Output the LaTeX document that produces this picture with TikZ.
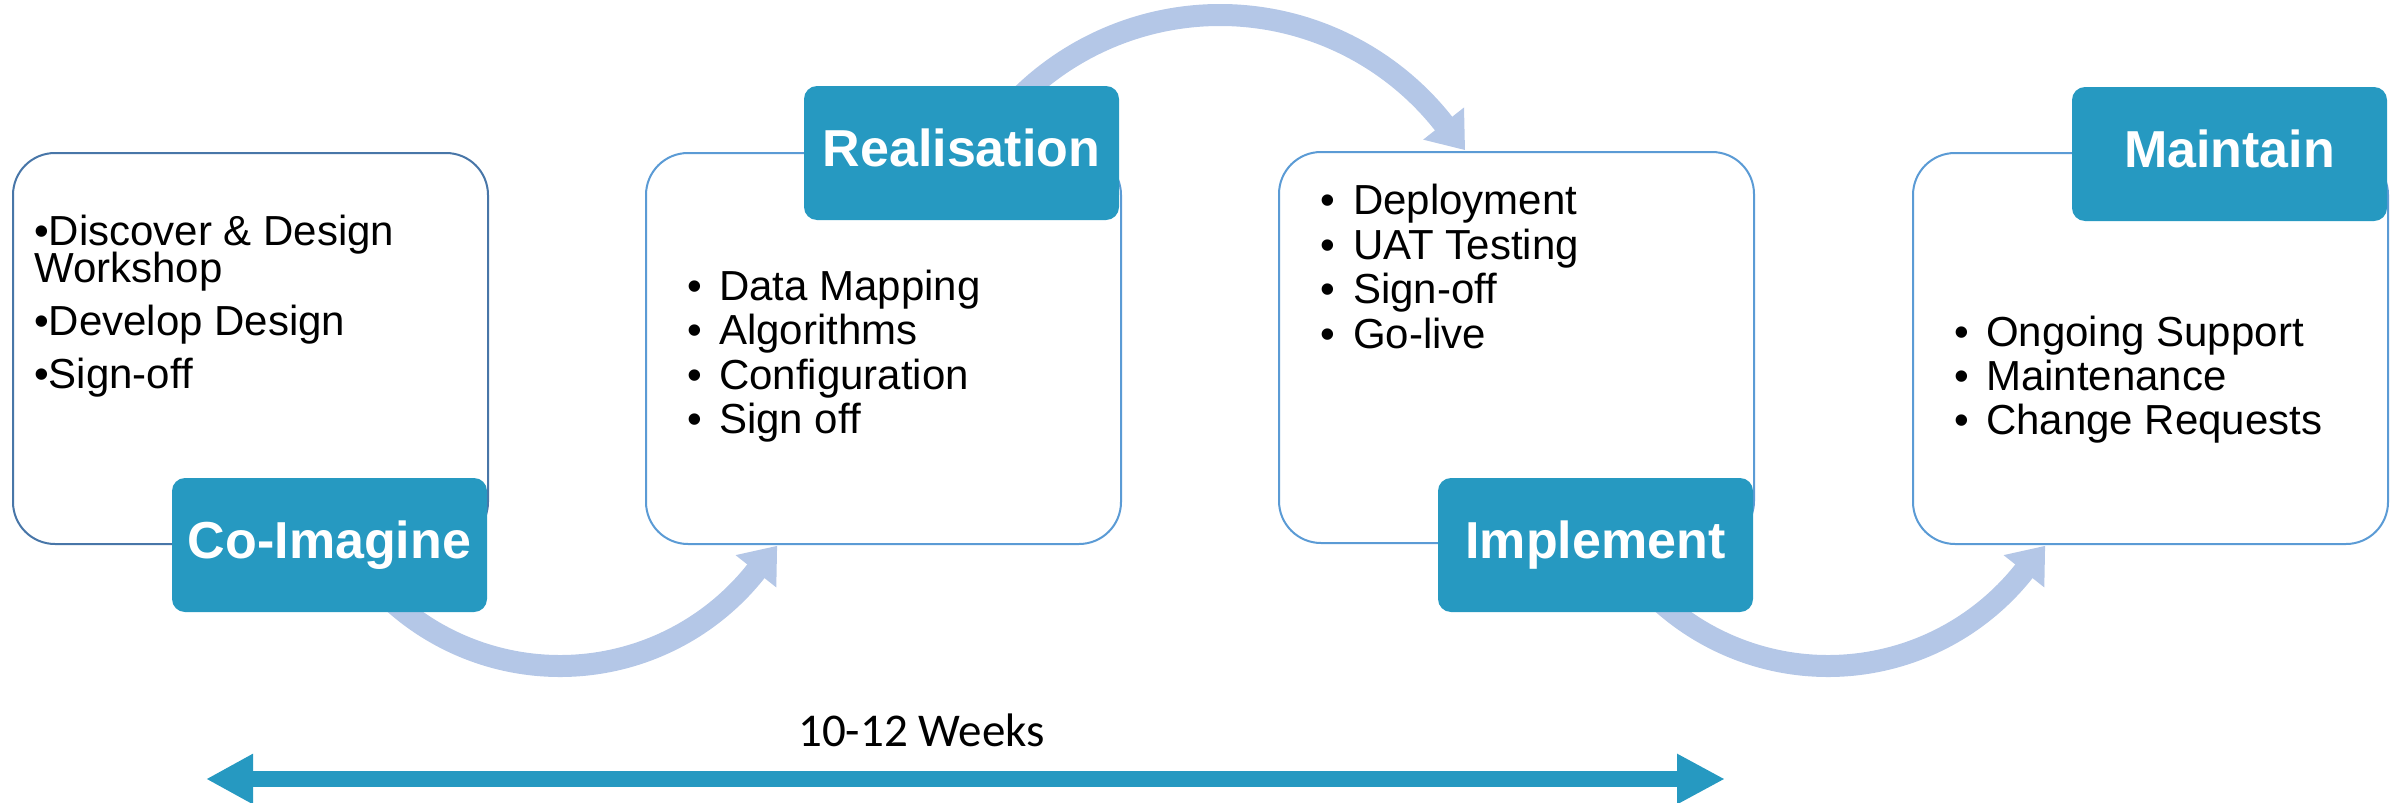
\documentclass[tikz,border=0pt]{standalone}
\usepackage{fontspec}
\setmainfont{Liberation Sans}
\newfontfamily\weeksfont{Carlito}
\usetikzlibrary{arrows.meta,calc}
\definecolor{labelblue}{RGB}{38,153,193}
\definecolor{arcblue}{RGB}{180,199,231}
\definecolor{boxline}{RGB}{91,155,213}
\definecolor{boxlinedark}{RGB}{72,118,168}
\begin{document}
\begin{tikzpicture}[x=1pt,y=1pt,
  panel/.style={draw=boxline, line width=2pt, fill=white, rounded corners=42pt,
    minimum width=475pt, minimum height=391pt, anchor=north west, inner sep=0pt, outer sep=0pt},
  tag/.style={fill=labelblue, rounded corners=13pt, minimum width=315pt, minimum height=134pt,
    anchor=north east, inner sep=0pt, outer sep=0pt, text=white,
    font=\fontsize{52}{52}\selectfont\bfseries, text height=37pt, text depth=11pt},
  item/.style={anchor=base west, inner sep=0pt, font=\fontsize{42}{44}\selectfont},
  band/.style={draw=arcblue, line width=22pt},
  head/.style={fill=arcblue},
  span/.style={draw=labelblue, line width=16pt,
    {Triangle[length=47pt,width=47pt]}-{Triangle[length=48pt,width=47pt]}},
  weeks/.style={anchor=base, inner sep=0pt, font=\weeksfont\fontsize{47}{47}\selectfont}
]
\useasboundingbox (0,0) rectangle (2402,-803);

% panels
\node[panel, draw=boxlinedark] (p1) at (13,-153) {};
\node[panel] (p2) at (646,-153) {};
\node[panel] (p3) at (1279,-152) {};
\node[panel] (p4) at (1913,-153) {};

% curved arrows
\coordinate (ctop) at (1220,-299.5);
\draw[band] ($(ctop)+(140:284.5pt)$) arc[start angle=140, end angle=38, radius=284.5pt];
\fill[head] ($(ctop)+(31.4:287pt)$) -- ($(ctop)+(38.2:310.5pt)$) -- ($(ctop)+(38.2:258.5pt)$) -- cycle;

\coordinate (cba) at (560,-416);
\draw[band] ($(cba)+(-140:250pt)$) arc[start angle=-140, end angle=-38.2, radius=250pt];
\fill[head] ($(cba)+(-30.9:253pt)$) -- ($(cba)+(-38.4:276pt)$) -- ($(cba)+(-38.4:224pt)$) -- cycle;

\coordinate (cbb) at (1828,-416);
\draw[band] ($(cbb)+(-140:250pt)$) arc[start angle=-140, end angle=-38.2, radius=250pt];
\fill[head] ($(cbb)+(-30.9:253pt)$) -- ($(cbb)+(-38.4:276pt)$) -- ($(cbb)+(-38.4:224pt)$) -- cycle;

% tags
\node[tag] (t1) at (487,-478) {Co-Imagine};
\node[tag] (t2) at (1119,-86) {Realisation};
\node[tag] (t3) at (1753,-478) {Implement};
\node[tag] (t4) at (2387,-87) {Maintain};

% box 1 text
\node[item] (a1) at (34,-245) {•Discover \& Design};
\node[item] (a2) at (34,-282) {Workshop};
\node[item] (a3) at (34,-335) {•Develop Design};
\node[item] (a4) at (34,-388) {•Sign-off};

% box 2 text
\node[item] (b1) at (687,-300) {\makebox[32pt][l]{•}Data Mapping};
\node[item] (b2) at (687,-344.5) {\makebox[32pt][l]{•}Algorithms};
\node[item] (b3) at (687,-389) {\makebox[32pt][l]{•}Configuration};
\node[item] (b4) at (687,-433.5) {\makebox[32pt][l]{•}Sign off};

% box 3 text
\node[item] (c1) at (1320,-214.5) {\makebox[33pt][l]{•}Deployment};
\node[item] (c2) at (1320,-259.5) {\makebox[33pt][l]{•}UAT Testing};
\node[item] (c3) at (1320,-303.5) {\makebox[33pt][l]{•}Sign-off};
\node[item] (c4) at (1320,-348) {\makebox[33pt][l]{•}Go-live};

% box 4 text
\node[item] (d1) at (1954,-346.5) {\makebox[32pt][l]{•}Ongoing Support};
\node[item] (d2) at (1954,-390) {\makebox[32pt][l]{•}Maintenance};
\node[item] (d3) at (1954,-434) {\makebox[32pt][l]{•}Change Requests};

% duration arrow
\coordinate (wl) at (206,-779);
\coordinate (wr) at (1725,-779);
\draw[span] (wl) -- (wr);
\node[weeks] (wk) at (921.5,-746) {10-12 Weeks};
\end{tikzpicture}
\end{document}
